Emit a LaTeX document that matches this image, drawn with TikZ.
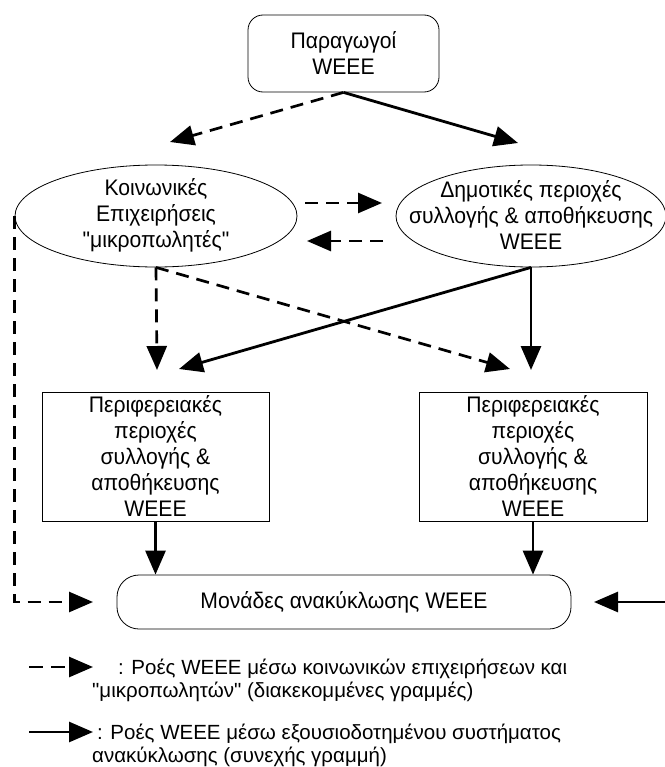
\documentclass[tikz,border=0pt]{standalone}
\usepackage{fontspec}
\setmainfont{Liberation Sans}[Ligatures=TeXOff]
\newfontfamily\boxfont{Liberation Sans}[Ligatures=TeXOff,FakeStretch=0.94]
\usetikzlibrary{arrows.meta,shapes.geometric}

\begin{document}
\begin{tikzpicture}[x=1bp,y=-1bp,
    >={Triangle[length=24bp,width=20bp]},
    txt/.style={font=\boxfont\fontsize{22.5bp}{26bp}\selectfont,align=center,inner sep=0pt},
    roundbox/.style={txt,draw,line width=0.8bp,rounded corners=#1},
    ellbox/.style={draw,ellipse,line width=0.8bp,inner sep=0pt},
    plainbox/.style={txt,draw,line width=0.8bp},
    dflow/.style={->,line width=2.7bp,dash pattern=on 13bp off 8bp},
    sflow/.style={->,line width=2.8bp},
    legtxt/.style={font=\fontsize{20.5bp}{22bp}\selectfont,inner sep=0pt,anchor=base west}]
      \useasboundingbox (0,0) rectangle (665,767);
      %% nodes
      \node[roundbox=15bp,minimum width=191bp,minimum height=77bp] (prod) at (343.5,53.5) {Παραγωγοί\\WEEE};
      \node[ellbox,minimum width=282bp,minimum height=102bp] (koin) at (156,216) {};
      \node[txt] (kointxt) at (156,215) {Κοινωνικές\\Επιχειρήσεις\\"μικροπωλητές"};
      \node[ellbox,minimum width=270bp,minimum height=102bp] (dim) at (531,216) {};
      \node[txt] (dimtxt) at (531,215) {Δημοτικές περιοχές\\συλλογής \& αποθήκευσης\\WEEE};
      \node[plainbox,minimum width=227bp,minimum height=129bp] (perA) at (155.5,456.5) {Περιφερειακές\\περιοχές\\συλλογής \&\\αποθήκευσης\\WEEE};
      \node[plainbox,minimum width=228bp,minimum height=129bp] (perB) at (533,456.5) {Περιφερειακές\\περιοχές\\συλλογής \&\\αποθήκευσης\\WEEE};
      \node[roundbox=22bp,minimum width=454bp,minimum height=54bp] (mon) at (344,602) {Μονάδες ανακύκλωσης WEEE};
      %% free ends
      \coordinate (kTip) at (170,142);
      \coordinate (dTip) at (518,143);
      \coordinate (hA) at (305,203);
      \coordinate (hB) at (382,203);
      \coordinate (hC) at (383,241);
      \coordinate (hD) at (307,241);
      \coordinate (pAtip) at (157,370);
      \coordinate (pAdiag) at (179,369);
      \coordinate (pBdiag) at (510,369);
      \coordinate (pBtip) at (531,370);
      \coordinate (mTipL) at (93,602);
      \coordinate (rEnd) at (665,602);
      \coordinate (mTipR) at (594,602);
      %% flows
      \draw[dflow] (prod.south) -- (kTip);
      \draw[sflow] (prod.south) -- (dTip);
      \draw[dflow] (hA) -- (hB);
      \draw[dflow] (hC) -- (hD);
      \draw[dflow] (koin.south) -- (pAtip);
      \draw[dflow] (koin.south) -- (pBdiag);
      \draw[sflow] (dim.south) -- (pAdiag);
      \draw[sflow] (dim.south) -- (pBtip);
      \draw[sflow] (perA.south) -- (perA.south |- mon.north);
      \draw[sflow] (perB.south) -- (perB.south |- mon.north);
      \draw[dflow] (koin.west) |- (mTipL);
      \draw[sflow] (rEnd) -- (mTipR);
      %% legend
      \coordinate (lgDa) at (29,667);
      \coordinate (lgDb) at (93,667);
      \coordinate (lgSa) at (29,732);
      \coordinate (lgSb) at (93,732);
      \draw[->,line width=2.7bp,dash pattern=on 14bp off 8bp] (lgDa) -- (lgDb);
      \draw[sflow] (lgSa) -- (lgSb);
      \node[legtxt] (legDa) at (118,674) {: Ροές WEEE μέσω κοινωνικών επιχειρήσεων και};
      \node[legtxt] (legDb) at (92,697) {"μικροπωλητών" (διακεκομμένες γραμμές)};
      \node[legtxt] (legSa) at (97,739) {: Ροές WEEE μέσω εξουσιοδοτημένου συστήματος};
      \node[legtxt] (legSb) at (92,762) {ανακύκλωσης (συνεχής γραμμή)};
  \end{tikzpicture}
\end{document}
